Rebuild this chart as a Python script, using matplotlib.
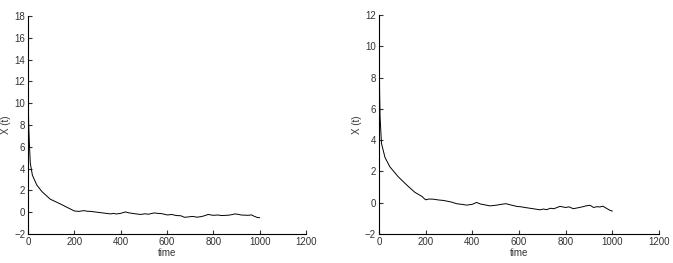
import numpy as np
import matplotlib
matplotlib.use("Agg")
import matplotlib.pyplot as plt

# left panel samples (time, X(t))
t_left = [0, 1, 3, 6, 10, 19, 38, 60, 96, 139, 168, 200, 220, 240, 255, 270, 300, 330, 356,
          370, 380, 400, 420, 435, 450, 470, 487, 505, 520, 545, 560, 575, 603, 620, 640,
          660, 675, 695, 710, 730, 748, 765, 777, 800, 820, 835, 865, 880, 893, 910, 920,
          950, 965, 975, 990, 1000]
x_left = [14, 10.5, 8.0, 6.3, 4.5, 3.4, 2.5, 1.9, 1.2, 0.77, 0.46, 0.12, 0.08, 0.15, 0.1,
          0.08, 0.0, -0.08, -0.15, -0.1, -0.16, -0.1, 0.03, -0.05, -0.1, -0.16, -0.2, -0.14,
          -0.18, -0.06, -0.1, -0.12, -0.25, -0.2, -0.3, -0.32, -0.46, -0.42, -0.38, -0.45,
          -0.4, -0.3, -0.2, -0.28, -0.25, -0.3, -0.27, -0.22, -0.15, -0.2, -0.25, -0.28,
          -0.24, -0.35, -0.48, -0.5]

# right panel samples
t_right = [0, 1, 3, 5, 11, 26, 47, 83, 119, 154, 185, 200, 215, 233, 255, 276, 310, 333,
           355, 376, 400, 419, 435, 450, 476, 505, 533, 545, 560, 590, 610, 625, 661, 690,
           705, 719, 735, 750, 776, 800, 815, 833, 860, 875, 890, 905, 920, 935, 947, 960,
           975, 990, 1000]
x_right = [12, 10.6, 7.2, 5.5, 3.8, 2.9, 2.3, 1.66, 1.14, 0.67, 0.4, 0.19, 0.24, 0.23,
           0.18, 0.15, 0.05, -0.06, -0.1, -0.15, -0.1, 0.02, -0.08, -0.12, -0.2, -0.15,
           -0.08, -0.06, -0.12, -0.23, -0.26, -0.3, -0.38, -0.45, -0.4, -0.44, -0.35, -0.38,
           -0.23, -0.3, -0.26, -0.38, -0.3, -0.25, -0.19, -0.16, -0.3, -0.25, -0.27, -0.22,
           -0.35, -0.48, -0.53]

xticks = [0, 200, 400, 600, 800, 1000, 1200]

plt.rcParams['font.family'] = ['Liberation Sans', 'DejaVu Sans']
plt.rcParams['font.size'] = 7

fig = plt.figure(figsize=(6.73, 2.63), dpi=100)
ax1 = fig.add_axes([0.0416, 0.110, 0.413, 0.829])
ax2 = fig.add_axes([0.563, 0.110, 0.416, 0.833])

for ax, t, x, ylim, yt in [(ax1, t_left, x_left, (-2, 18), range(-2, 19, 2)),
                           (ax2, t_right, x_right, (-2, 12), range(-2, 13, 2))]:
    ax.plot(t, x, color='black', lw=0.7)
    ax.set_xlim(0, 1200)
    ax.set_ylim(*ylim)
    ax.set_xticks(xticks)
    ax.set_yticks(list(yt))
    ax.spines['top'].set_visible(False)
    ax.spines['right'].set_visible(False)
    ax.tick_params(direction='in', length=3, width=0.8, labelsize=7, colors='#333333', pad=2)
    ax.set_xlabel('time', fontsize=7, color='#333333', labelpad=1)
    ax.set_ylabel('X (t)', fontsize=7, color='#333333', labelpad=2)

fig.savefig('out.png', dpi=100)
